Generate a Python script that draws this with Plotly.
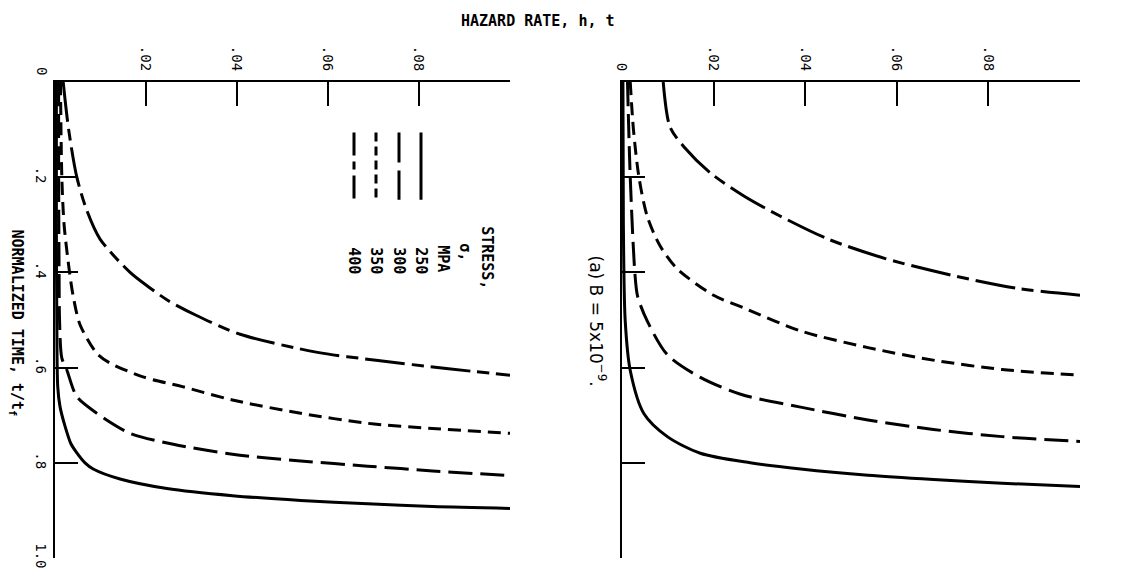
import plotly.graph_objects as go

# ---------------- data ----------------
STRESS = ["250", "300", "350", "400"]

# panel (b) - left
B_T_250 = [0, 0.3, 0.5, 0.64, 0.682, 0.723, 0.76, 0.779, 0.8, 0.813, 0.834, 0.854, 0.869, 0.879, 0.886, 0.892, 0.896]
B_H_250 = [0.0003, 0.0003, 0.0004, 0.0006, 0.0011, 0.0022, 0.0035, 0.0048, 0.0066, 0.0084, 0.0143, 0.0246, 0.039, 0.054, 0.0687, 0.083, 0.100]
B_T_300 = [0, 0.2, 0.4, 0.5, 0.58, 0.605, 0.661, 0.696, 0.738, 0.761, 0.782, 0.796, 0.807, 0.817, 0.827]
B_H_300 = [0.0008, 0.0008, 0.0009, 0.001, 0.0015, 0.0026, 0.0048, 0.0092, 0.0165, 0.026, 0.039, 0.054, 0.0687, 0.083, 0.100]
B_T_350 = [0, 0.2, 0.3, 0.4, 0.45, 0.51, 0.57, 0.59, 0.62, 0.64, 0.668, 0.696, 0.717, 0.728, 0.738]
B_H_350 = [0.0012, 0.0015, 0.002, 0.0032, 0.004, 0.0055, 0.0092, 0.012, 0.0195, 0.028, 0.039, 0.054, 0.0687, 0.083, 0.100]
B_T_400 = [0, 0.1, 0.2, 0.27, 0.33, 0.4, 0.43, 0.46, 0.49, 0.53, 0.568, 0.585, 0.602, 0.616]
B_H_400 = [0.0018, 0.003, 0.0048, 0.007, 0.0099, 0.0165, 0.0205, 0.025, 0.031, 0.0407, 0.0577, 0.071, 0.086, 0.100]

# panel (a) - right
A_T_250 = [0, 0.3, 0.502, 0.606, 0.697, 0.745, 0.78, 0.80, 0.813, 0.826, 0.835, 0.843, 0.85]
A_H_250 = [0.0002, 0.0003, 0.0007, 0.0018, 0.0048, 0.0099, 0.0171, 0.028, 0.039, 0.0537, 0.068, 0.083, 0.100]
A_T_300 = [0, 0.2, 0.4, 0.45, 0.502, 0.573, 0.62, 0.656, 0.683, 0.71, 0.73, 0.745, 0.755]
A_H_300 = [0.0012, 0.0018, 0.0028, 0.0034, 0.0055, 0.0099, 0.017, 0.0259, 0.039, 0.0537, 0.068, 0.083, 0.100]
A_T_350 = [0, 0.1, 0.2, 0.282, 0.344, 0.392, 0.448, 0.475, 0.523, 0.558, 0.585, 0.604, 0.616]
A_H_350 = [0.0018, 0.0025, 0.0037, 0.0055, 0.0083, 0.012, 0.020, 0.0267, 0.039, 0.0537, 0.0684, 0.083, 0.100]
A_T_400 = [0, 0.095, 0.137, 0.191, 0.24, 0.282, 0.33, 0.371, 0.406, 0.434, 0.448]
A_H_400 = [0.009, 0.0105, 0.0136, 0.0193, 0.0267, 0.0346, 0.045, 0.0575, 0.072, 0.0866, 0.100]

H_TICKS = [0, 0.02, 0.04, 0.06, 0.08]
H_TICKTEXT = ["0", ".02", ".04", ".06", ".08"]
H_TICKTEXT_LEFT = ["", ".02", ".04", ".06", ".08"]
T_TICKS = [0.2, 0.4, 0.6, 0.8, 1.0]
T_TICKTEXT = [".2", ".4", ".6", ".8", "1.0"]

# ---------------- styles / layout ----------------
PAGE_OFF = 8                      # default body margin of the html page
W, H = 1134 - PAGE_OFF, 581 - PAGE_OFF
ML, MR, MT, MB = 55 - PAGE_OFF, 54, 82 - PAGE_OFF, 18
PW, PH = W - ML - MR, H - MT - MB

DASH = {"250": "solid", "300": "24px,8px", "350": "13px,7px", "400": "40px,7px,12px,7px"}
LEG_DASH = {"250": "solid", "300": "30px,8px", "350": "9px,5px", "400": "23px,6px,8px,6px"}
FONT = "DejaVu Sans Mono"


def px(x, y):
    """page pixel position -> paper coordinates"""
    fx, fy = x - PAGE_OFF, y - PAGE_OFF
    return (fx - ML) / PW, (H - MB - fy) / PH


fig = go.Figure()

panels = [
    ("x", "y", {"250": (B_T_250, B_H_250), "300": (B_T_300, B_H_300),
                "350": (B_T_350, B_H_350), "400": (B_T_400, B_H_400)}),
    ("x2", "y2", {"250": (A_T_250, A_H_250), "300": (A_T_300, A_H_300),
                  "350": (A_T_350, A_H_350), "400": (A_T_400, A_H_400)}),
]
for xa, ya, curves in panels:
    for s in STRESS:
        t, h = curves[s]
        fig.add_trace(go.Scatter(x=h, y=t, mode="lines", xaxis=xa, yaxis=ya,
                                 line=dict(color="black", width=3, dash=DASH[s],
                                           shape="spline", smoothing=0.8),
                                 showlegend=False, hoverinfo="skip"))

# legend swatches (vertical lines) in left panel
LEG_X_PX = {"250": 421, "300": 399, "350": 376, "400": 354}
LEG_Y0_PX, LEG_Y1_PX = 133, 201
for s in STRESS:
    x0, y0 = px(LEG_X_PX[s], LEG_Y0_PX)
    _, y1 = px(LEG_X_PX[s], LEG_Y1_PX)
    fig.add_shape(type="line", xref="paper", yref="paper", x0=x0, x1=x0, y0=y0, y1=y1,
                  line=dict(color="black", width=3, dash=LEG_DASH[s]))

annots = []


def add_text(text, x, y, size=14, angle=90, family=FONT, weight="normal"):
    ax, ay = px(x, y)
    annots.append(dict(text=text, x=ax, y=ay, xref="paper", yref="paper", showarrow=False,
                       textangle=angle, xanchor="center", yanchor="middle",
                       font=dict(family=family, size=size, color="black", weight=weight)))


add_text("STRESS,", 487, 259, size=15, weight="bold")
add_text("σ,", 465, 254, size=15, weight="bold")
add_text("MPA", 443, 260, size=15, weight="bold")
for s in STRESS:
    add_text(s, LEG_X_PX[s], 262, size=15, weight="bold")
add_text("HAZARD RATE, h, t", 538, 20, size=15, angle=0, weight="bold")
add_text("NORMALIZED TIME, t/t<sub>f</sub>", 17, 325, size=15, weight="bold")
add_text("(a) B = 5x10<sup>−9</sup>.", 597, 323, size=17, family="DejaVu Sans")
add_text("0", 42, 71, size=14)          # corner label of the lower-left panel

common_x = dict(range=[0, 0.1], side="top", showline=True, linecolor="black", linewidth=2,
                ticks="inside", ticklen=24, tickwidth=2, tickcolor="black",
                tickvals=H_TICKS, ticktext=H_TICKTEXT, tickangle=90, ticklabelstandoff=4,
                tickfont=dict(family=FONT, size=14, color="black"),
                showgrid=False, zeroline=False, fixedrange=True)
common_y = dict(range=[1.0, 0], domain=[0, 1], showline=True, linecolor="black", linewidth=1.5,
                ticks="inside", ticklen=23, tickwidth=1.5, tickcolor="black",
                tickvals=T_TICKS, ticktext=T_TICKTEXT, tickangle=90,
                tickfont=dict(family=FONT, size=14, color="black"),
                showgrid=False, zeroline=False, fixedrange=True)

fig.update_layout(
    width=W, height=H,
    margin=dict(l=ML, r=MR, t=MT, b=MB),
    paper_bgcolor="white", plot_bgcolor="white",
    xaxis=dict(common_x, domain=[0, (510 - 55) / PW], anchor="y", ticktext=H_TICKTEXT_LEFT),
    yaxis=dict(common_y, anchor="x"),
    xaxis2=dict(common_x, domain=[(622 - 55) / PW, 1.0], anchor="y2"),
    yaxis2=dict(common_y, anchor="x2", showticklabels=False),
    annotations=annots,
    showlegend=False,
)

fig.write_html("out.html")
